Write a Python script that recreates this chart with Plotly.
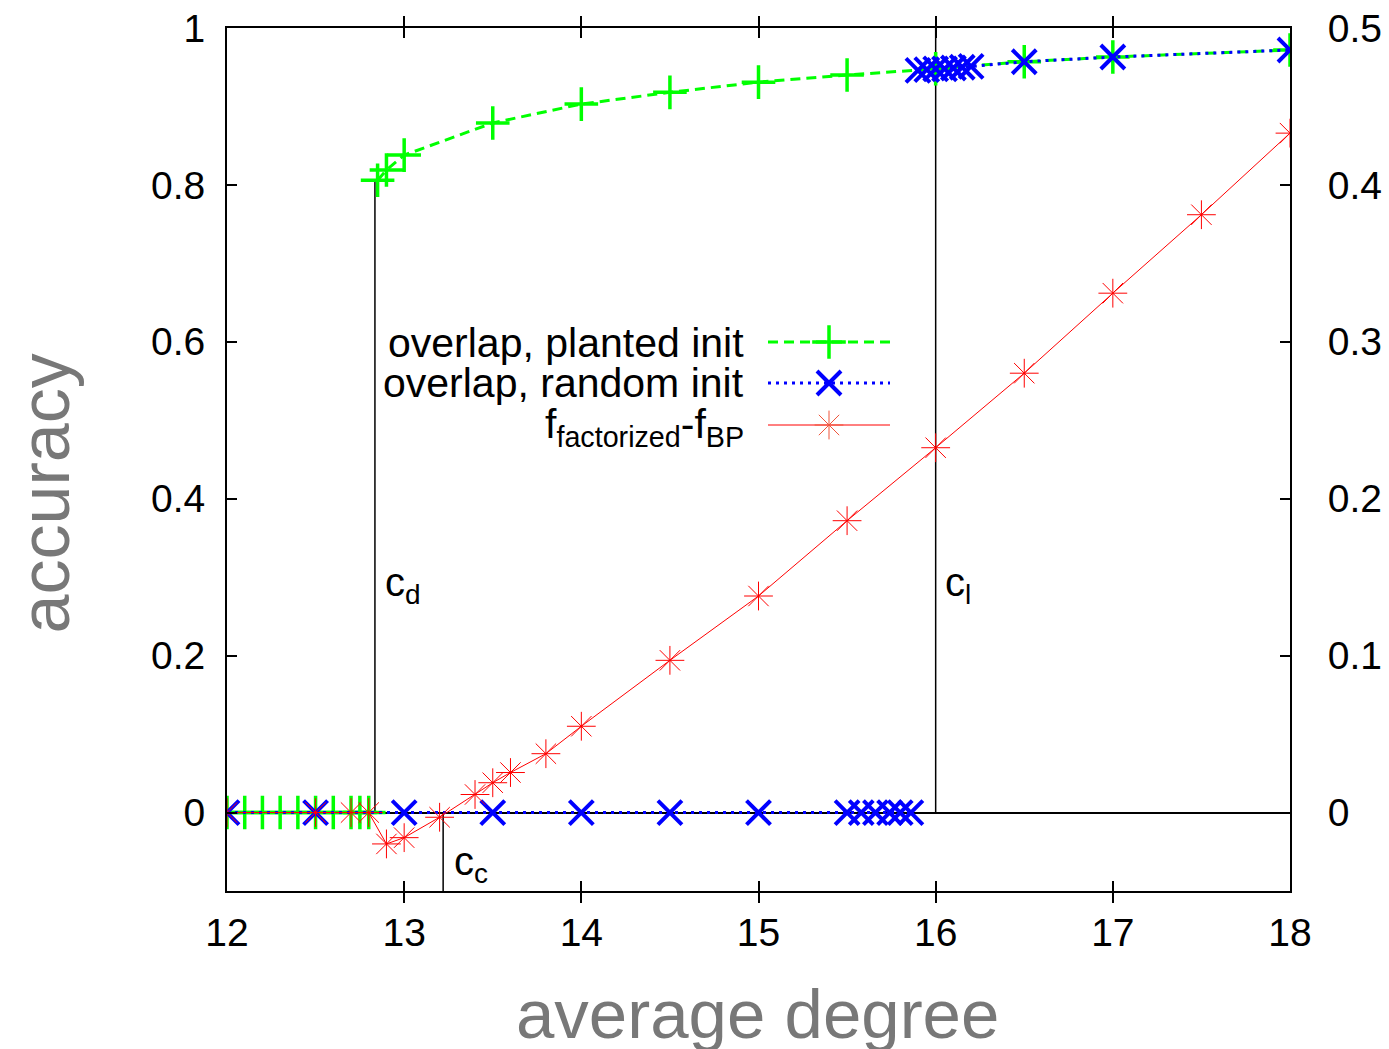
import plotly.graph_objects as go

# ---------------- data ----------------
green_x = [12.0, 12.1, 12.2, 12.3, 12.4, 12.5, 12.6, 12.7, 12.75, 12.8, None,
           12.85, 12.9, 13.0, 13.5, 14.0, 14.5, 15.0, 15.5, 16.0, 16.5, 17.0, 18.0]
green_y = [0, 0, 0, 0, 0, 0, 0, 0, 0, 0, None,
           0.806, 0.819, 0.838, 0.879, 0.903, 0.918, 0.931, 0.940, 0.948, 0.957, 0.963, 0.972]

blue_x = [12.0, 12.5, 13.0, 13.5, 14.0, 14.5, 15.0, 15.5, 15.58, 15.66, 15.74, 15.8, 15.86, None,
          15.9, 15.95, 16.0, 16.05, 16.1, 16.15, 16.2, 16.5, 17.0, 18.0]
blue_y = [0, 0, 0, 0, 0, 0, 0, 0, 0, 0, 0, 0, 0, None,
          0.946, 0.947, 0.948, 0.948, 0.949, 0.950, 0.951, 0.957, 0.963, 0.972]

red_x = [12.0, 12.5, 12.7, 12.8, 12.9, 13.0, 13.2, 13.4, 13.5, 13.6, 13.8,
         14.0, 14.5, 15.0, 15.5, 16.0, 16.5, 17.0, 17.5, 18.0]
red_y = [0.0, 0.0, 0.0, 0.0, -0.020, -0.016, -0.003, 0.0115, 0.019, 0.0255, 0.0375,
         0.055, 0.097, 0.138, 0.186, 0.2325, 0.280, 0.331, 0.381, 0.433]

# thresholds (vertical marker lines)
c_d = 12.835
c_c = 13.22
c_l = 16.0
c_d_top = 0.806

x_ticks = [12, 13, 14, 15, 16, 17, 18]
y_ticks = [0, 0.2, 0.4, 0.6, 0.8, 1.0]
y_ticklabels = ["0", "0.2", "0.4", "0.6", "0.8", "1"]
y2_ticks = [0, 0.1, 0.2, 0.3, 0.4, 0.5]
y2_ticklabels = ["0", "0.1", "0.2", "0.3", "0.4", "0.5"]

legend_names = ["overlap, planted init", "overlap, random init",
                "f<sub>factorized</sub>-f<sub>BP</sub>"]

# ---------------- styles ----------------
FONT = "Liberation Sans, Arial, Helvetica, sans-serif"
GREEN = "#00ff00"
BLUE = "#0000ff"
RED = "#ff0000"
GRAY = "#787878"

green_line = dict(color=GREEN, width=3, dash="10px,6px")
green_marker = dict(symbol="cross-thin", size=24, line=dict(color=GREEN, width=3.5))
blue_line = dict(color=BLUE, width=3, dash="3px,5px")
blue_marker = dict(symbol="x-thin", size=24, line=dict(color=BLUE, width=4))
red_line = dict(color=RED, width=1)
red_marker = dict(symbol="asterisk-open", size=24, line=dict(color=RED, width=1))

fig = go.Figure()

# vertical threshold lines
fig.add_trace(go.Scatter(x=[c_d, c_d], y=[0, c_d_top], mode="lines",
                         line=dict(color="black", width=1.5), showlegend=False, hoverinfo="skip"))
fig.add_trace(go.Scatter(x=[c_c, c_c], y=[-0.1, 0], mode="lines",
                         line=dict(color="black", width=1.5), showlegend=False, hoverinfo="skip"))
fig.add_trace(go.Scatter(x=[c_l, c_l], y=[0, 1], mode="lines",
                         line=dict(color="black", width=1.5), showlegend=False, hoverinfo="skip"))

fig.add_trace(go.Scatter(x=green_x, y=green_y, mode="lines+markers", line=green_line,
                         marker=green_marker, connectgaps=False, showlegend=False))
fig.add_trace(go.Scatter(x=blue_x, y=blue_y, mode="lines+markers", line=blue_line,
                         marker=blue_marker, connectgaps=False, showlegend=False))
fig.add_trace(go.Scatter(x=red_x, y=red_y, yaxis="y2", mode="lines+markers", line=red_line,
                         marker=red_marker, showlegend=False))

# ---------------- custom legend (pixel overlay axes) ----------------
leg_x0, leg_x1, leg_xm, leg_text_x = 768, 890, 829, 746
leg_rows = [342, 383, 425]
leg_text_rows = [343, 383, 427]
leg_styles = [(green_line, green_marker), (blue_line, blue_marker), (red_line, red_marker)]
for (ln, mk), yy in zip(leg_styles, leg_rows):
    fig.add_trace(go.Scatter(x=[leg_x0, leg_x1], y=[yy, yy], mode="lines", line=ln,
                             xaxis="x3", yaxis="y3", showlegend=False, hoverinfo="skip"))
    fig.add_trace(go.Scatter(x=[leg_xm], y=[yy], mode="markers", marker=mk,
                             xaxis="x3", yaxis="y3", showlegend=False, hoverinfo="skip"))

annotations = []
for name, yy in zip(legend_names, leg_text_rows):
    annotations.append(dict(x=leg_text_x, y=yy, xref="x3", yref="y3", text=name,
                            showarrow=False, xanchor="right", yanchor="middle",
                            font=dict(family=FONT, size=41, color="black")))

# threshold labels
annotations += [
    dict(x=12.88, y=0.29, xref="x", yref="y", text="c<sub>d</sub>", showarrow=False,
         xanchor="left", yanchor="middle", font=dict(family=FONT, size=40, color="black")),
    dict(x=16.04, y=0.29, xref="x", yref="y", text="c<sub>l</sub>", showarrow=False,
         xanchor="left", yanchor="middle", font=dict(family=FONT, size=40, color="black")),
    dict(x=13.27, y=-0.065, xref="x", yref="y", text="c<sub>c</sub>", showarrow=False,
         xanchor="left", yanchor="middle", font=dict(family=FONT, size=40, color="black")),
]
# axis titles
annotations += [
    dict(x=-0.171, y=0.461, xref="paper", yref="paper", text="accuracy", textangle=-90,
         showarrow=False, xanchor="center", yanchor="middle",
         font=dict(family=FONT, size=70, color=GRAY)),
    dict(x=0.4986, y=-0.143, xref="paper", yref="paper", text="average degree",
         showarrow=False, xanchor="center", yanchor="middle",
         font=dict(family=FONT, size=69, color=GRAY)),
]

axis_common = dict(showgrid=False, showline=True, linecolor="black", linewidth=2,
                   ticks="inside", ticklen=10, tickwidth=1.5, tickcolor="black",
                   tickfont=dict(family=FONT, size=39, color="black"))

fig.update_layout(
    width=1389, height=1049,
    margin=dict(l=227, r=99, t=28, b=158, autoexpand=False),
    paper_bgcolor="white", plot_bgcolor="white",
    showlegend=False,
    xaxis=dict(range=[12, 18], tickvals=x_ticks, mirror="allticks", zeroline=False,
               ticklabelstandoff=6, **axis_common),
    yaxis=dict(range=[-0.1, 1], tickvals=y_ticks, ticktext=y_ticklabels, mirror=True,
               zeroline=True, zerolinecolor="black", zerolinewidth=2,
               ticklabelstandoff=12, **axis_common),
    yaxis2=dict(range=[-0.05, 0.5], tickvals=y2_ticks, ticktext=y2_ticklabels,
                overlaying="y", side="right", zeroline=False, ticklabelstandoff=28,
                **axis_common),
    xaxis3=dict(range=[227, 1290], overlaying="x", visible=False, anchor="y3"),
    yaxis3=dict(range=[891, 28], overlaying="y", visible=False, anchor="x3"),
    annotations=annotations,
)

fig.write_html("out.html")
